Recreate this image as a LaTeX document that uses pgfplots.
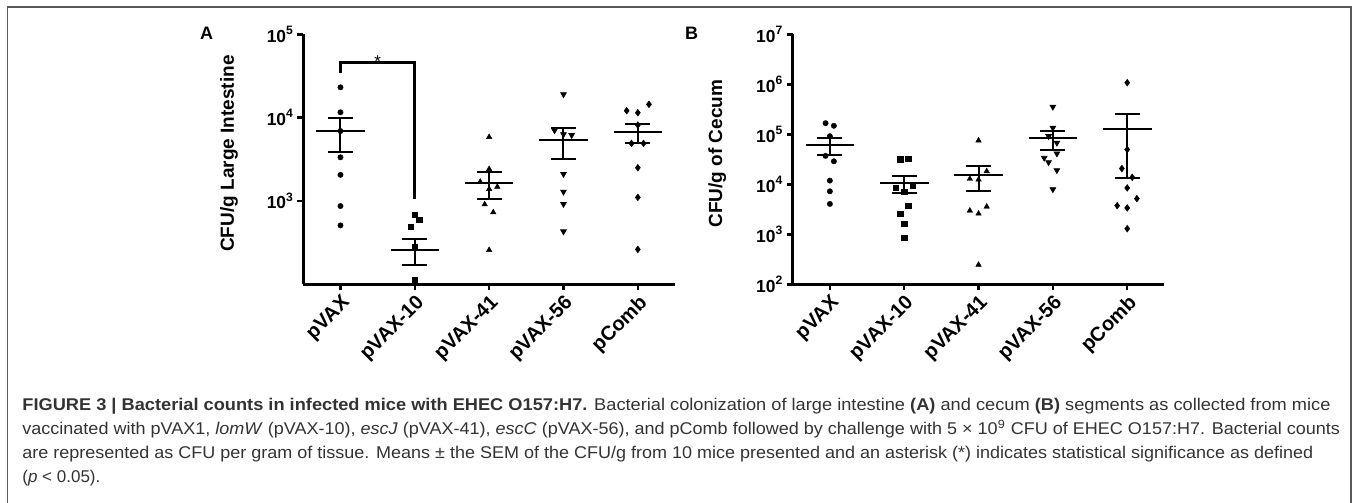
\documentclass[border=0pt]{standalone}
\usepackage{fontspec}
\setmainfont{Liberation Sans}
\usepackage{graphicx}
\usepackage{pgfplots}
\pgfplotsset{compat=1.18}

\definecolor{captxt}{HTML}{333333}
\definecolor{framegray}{HTML}{5A5A5A}

% 1 px of the reference = 0.5pt
\pgfplotsset{
  pts/.style={only marks, black, mark options={fill=black, draw=black, line width=0.2pt}},
  meanl/.style={only marks, black, mark=-, mark size=12.15pt, mark options={line width=1pt}},
  capl/.style={only marks, black, mark=-, mark size=6.3pt, mark options={line width=1pt}},
  vbar/.style={black, line width=1pt, unbounded coords=jump, no marks},
}

\begin{document}
\begin{tikzpicture}
\useasboundingbox (0,0) rectangle (678.5pt,-251.5pt);

% frame
\draw[framegray, line width=0.7pt] (3.65pt,-251.5pt) -- (3.65pt,-3.4pt) -- (675.5pt,-3.4pt) -- (675.5pt,-251.5pt);

\node[font=\bfseries\fontsize{9}{10}\selectfont] at (103.35pt,-16.5pt) {A};
\node[font=\bfseries\fontsize{9}{10}\selectfont] at (345.85pt,-16.5pt) {B};

% ---------- panel A: large intestine ----------
\begin{semilogyaxis}[
  width=185.85pt, height=125pt, scale only axis,
  at={(151.65pt,-142.15pt)}, anchor=south west,
  axis lines=left, axis line style={-, line width=1.5pt, black},
  xmin=0.5, xmax=5.5, ymin=100, ymax=100000,
  xtick={1,2,3,4,5},
  xticklabels={pVAX,pVAX-10,pVAX-41,pVAX-56,pComb},
  ytick={1000,10000,100000},
  yticklabels={10\textsuperscript{3},10\textsuperscript{4},10\textsuperscript{5}},
  tick align=outside, major tick length=3pt,
  tick style={line width=1.2pt, black},
  yminorticks=false,
  yticklabel style={font=\bfseries\fontsize{8.7}{10}\selectfont, inner sep=1.5pt},
  xticklabel style={font=\bfseries\fontsize{10}{11}\selectfont, rotate=45, anchor=north east, inner sep=1pt},
  ylabel={CFU/g Large Intestine},
  ylabel style={font=\bfseries\fontsize{9.5}{11}\selectfont, at={(axis description cs:-0.2,0.523)}, anchor=center},
  clip=false]
% pVAX
\addplot[pts, mark=*, mark size=1.35pt] coordinates {
  (1,23100) (1,11580) (1,6900) (1,3340) (1,2060) (1,869) (1,509)};
% pVAX-10
\addplot[pts, mark=square*, mark size=1.3pt] coordinates {
  (2,691) (2.06,601) (1.94,495) (2,282) (2,112)};
% pVAX-41
\addplot[pts, mark=triangle*, mark size=1.6pt] coordinates {
  (3,5850) (3,2415) (2.88,1699) (3.11,1479) (3,1390) (2.94,910) (3.055,730) (3,258)};
% pVAX-56
\addplot[pts, mark=triangle*, mark size=1.6pt, mark options={rotate=180}] coordinates {
  (4,19050) (3.88,7040) (4,6310) (4.11,6180) (4,2105) (4,1290) (4,918) (4,431)};
% pComb
\addplot[pts, mark=diamond*, mark size=1.7pt] coordinates {
  (4.85,12100) (5,11460) (5.15,14450) (5,8150) (4.915,4910) (5.077,4910) (5,2505) (5,1104) (5,262)};
% mean and SEM
\addplot[meanl] coordinates {(1,6900) (2,258) (3,1652) (4,5330) (5,6670)};
\addplot[capl] coordinates {(1,3860) (1,9970) (2,170) (2,349) (3,1062) (3,2245) (4,3185) (4,7500) (5,5000) (5,8380)};
\addplot[vbar] coordinates {(1,3860) (1,9970) (1,nan) (2,170) (2,349) (2,nan)
  (3,1062) (3,2245) (3,nan) (4,3185) (4,7500) (4,nan) (5,5000) (5,8380)};
% significance bracket
\addplot[black, line width=1.5pt, no marks] coordinates {(1,34600) (1,45600) (2,45600) (2,1055)};
\node[anchor=base, inner sep=0pt, font=\fontsize{8.5}{10}\selectfont, yshift=-2.4pt] at (axis cs:1.5,45600) {*};
\end{semilogyaxis}

% ---------- panel B: cecum ----------
\begin{semilogyaxis}[
  width=185.85pt, height=125pt, scale only axis,
  at={(396.35pt,-142.15pt)}, anchor=south west,
  axis lines=left, axis line style={-, line width=1.5pt, black},
  xmin=0.5, xmax=5.5, ymin=100, ymax=10000000,
  xtick={1,2,3,4,5},
  xticklabels={pVAX,pVAX-10,pVAX-41,pVAX-56,pComb},
  ytick={100,1000,10000,100000,1000000,10000000},
  yticklabels={10\textsuperscript{2},10\textsuperscript{3},10\textsuperscript{4},10\textsuperscript{5},10\textsuperscript{6},10\textsuperscript{7}},
  tick align=outside, major tick length=3pt,
  tick style={line width=1.2pt, black},
  yminorticks=false,
  yticklabel style={font=\bfseries\fontsize{8.7}{10}\selectfont, inner sep=1.5pt},
  xticklabel style={font=\bfseries\fontsize{10}{11}\selectfont, rotate=45, anchor=north east, inner sep=1pt},
  ylabel={CFU/g of Cecum},
  ylabel style={font=\bfseries\fontsize{9.5}{11}\selectfont, at={(axis description cs:-0.203,0.523)}, anchor=center},
  clip=false]
\addplot[pts, mark=*, mark size=1.35pt] coordinates {
  (0.942,166700) (1.054,147900) (1,91600) (0.942,37100) (1.054,28900) (1,11860) (1,7240) (1,4050)};
\addplot[pts, mark=square*, mark size=1.3pt] coordinates {
  (1.946,31700) (2.054,32300) (1.89,8590) (2.11,9290) (2,7050) (2.054,3740) (1.946,2590) (2,1610) (2,855)};
\addplot[pts, mark=triangle*, mark size=1.6pt] coordinates {
  (3,75100) (3.11,18240) (2.883,12830) (3,12420) (2.883,2970) (3,2590) (3.11,3570) (3,246)};
\addplot[pts, mark=triangle*, mark size=1.6pt, mark options={rotate=180}] coordinates {
  (4,355600) (4,135000) (3.942,91600) (4.054,67600) (4.054,41200) (3.883,33800) (3.942,27600) (4.054,19100) (4,7940)};
\addplot[pts, mark=diamond*, mark size=1.7pt] coordinates {
  (5,1077000) (5,49600) (4.928,20650) (5.067,13800) (5,8470) (5.13,5170) (4.865,3740) (5,3370) (5,1295)};
\addplot[meanl] coordinates {(1,61700) (2,10810) (3,15400) (4,83600) (5,130600)};
\addplot[capl] coordinates {(1,38800) (1,85100) (2,6730) (2,14700) (3,7480) (3,23400) (4,48900) (4,119000) (5,13420) (5,249700)};
\addplot[vbar] coordinates {(1,38800) (1,85100) (1,nan) (2,6730) (2,14700) (2,nan)
  (3,7480) (3,23400) (3,nan) (4,48900) (4,119000) (4,nan) (5,13420) (5,249700)};
\end{semilogyaxis}

% ---------- caption ----------
\begin{scope}[every node/.style={anchor=base west, inner sep=0pt, text=captxt, font=\fontsize{8.5}{10}\selectfont}]
\node at (11pt,-205pt) {\resizebox{654pt}{\height}{\textbf{FIGURE 3 | Bacterial counts in infected mice with EHEC O157:H7.} Bacterial colonization of large intestine \textbf{(A)} and cecum \textbf{(B)} segments as collected from mice}};
\node at (11pt,-217pt) {\resizebox{658.8pt}{\height}{vaccinated with pVAX1, \textit{lomW} (pVAX-10), \textit{escJ} (pVAX-41), \textit{escC} (pVAX-56), and pComb followed by challenge with 5 × 10\textsuperscript{9} CFU of EHEC O157:H7. Bacterial counts}};
\node at (11pt,-229pt) {\resizebox{645.5pt}{\height}{are represented as CFU per gram of tissue. Means ± the SEM of the CFU/g from 10 mice presented and an asterisk (*) indicates statistical significance as defined}};
\node at (11pt,-241pt) {(\textit{p} < 0.05).};
\end{scope}
\end{tikzpicture}
\end{document}
